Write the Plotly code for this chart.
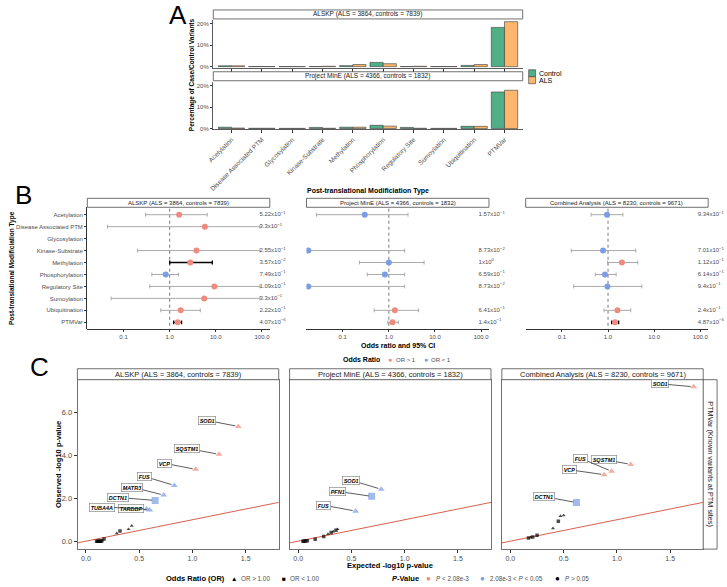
import math
import plotly.graph_objects as go

# ---------------- DATA ----------------
ptm_types = ["Acetylation", "Disease Associated PTM", "Glycosylation", "Kinase-Substrate",
             "Methylation", "Phosphorylation", "Regulatory Site", "Sumoylation",
             "Ubiquitination", "PTMVar"]

# Panel A: percentage of case / control variants
alskp_control_pct = [0.4, 0.1, 0.05, 0.1, 0.5, 2.0, 0.1, 0.1, 0.6, 18.4]
alskp_als_pct     = [0.4, 0.1, 0.05, 0.2, 1.0, 1.4, 0.2, 0.1, 1.0, 21.1]
mine_control_pct  = [0.6, 0.1, 0.05, 0.5, 0.6, 1.5, 0.5, 0.05, 1.0, 17.1]
mine_als_pct      = [0.2, 0.1, 0.05, 0.1, 0.6, 1.1, 0.1, 0.05, 1.0, 17.9]
a_y_ticks = [0, 10, 20]
a_y_ticklabels = ["0%", "10%", "20%"]
a_cohorts = ["ALSKP (ALS = 3864, controls = 7839)", "Project MinE (ALS = 4366, controls = 1832)"]

# Panel B: odds ratio, 95% CI, p-value per PTM type
b_cohorts = ["ALSKP (ALS = 3864, controls = 7839)",
             "Project MinE (ALS = 4366, controls = 1832)",
             "Combined Analysis (ALS = 8230, controls = 9671)"]
alskp_or = [1.6, 5.8, None, 3.8, 2.8, 0.82, 9.3, 5.6, 1.73, 1.49]
alskp_lo = [0.30, 0.045, None, 0.20, 1.0, 0.41, 0.37, 0.054, 0.64, 1.22]
alskp_hi = [6.5, 90, None, 90, 8.4, 1.56, 90, 90, 4.6, 1.81]
alskp_p  = [5.22e-1, 3.3e-1, None, 2.55e-1, 3.57e-2, 7.49e-1, 1.09e-1, 3.3e-1, 2.22e-1, 4.07e-6]

mine_or = [0.30, None, None, 0.018, 1.0, 0.82, 0.018, None, 1.35, 1.2]
mine_lo = [0.027, None, None, 0.01, 0.23, 0.34, 0.01, None, 0.48, 0.95]
mine_hi = [2.6, None, None, 2.2, 5.8, 2.2, 2.2, None, 4.4, 1.6]
mine_p  = [1.57e-1, None, None, 8.73e-2, 1.0, 6.59e-1, 8.73e-2, None, 6.41e-1, 1.4e-1]

comb_or = [0.95, None, None, 0.78, 2.0, 0.86, 0.97, None, 1.6, 1.42]
comb_lo = [0.43, None, None, 0.16, 0.98, 0.53, 0.18, None, 0.82, 1.2]
comb_hi = [2.1, None, None, 4.0, 4.4, 1.5, 5.4, None, 3.1, 1.7]
comb_p  = [9.34e-1, None, None, 7.01e-1, 1.12e-1, 6.14e-1, 9.4e-1, None, 2.4e-1, 4.87e-6]

b_x_ticks = [0.1, 1, 10, 100]
b_x_ticklabels = ["0.1", "1.0", "10.0", "100.0"]

# Panel C: QQ plots (expected vs observed -log10 p), OR direction, p class
alskp_gene = ["SOD1", "SQSTM1", "VCP", "FUS", "MATR3", "DCTN1", "TARDBP", "TUBA4A",
              "", "", "", "", "", "", "", "", "", "", ""]
alskp_exp = [1.43, 1.25, 1.03, 0.83, 0.73, 0.65, 0.60, 0.57,
             0.43, 0.40, 0.32, 0.29, 0.17, 0.15, 0.14, 0.13, 0.12, 0.11, 0.10]
alskp_obs = [5.35, 4.05, 3.35, 2.60, 2.15, 1.90, 1.45, 1.50,
             0.72, 0.56, 0.47, 0.37, 0.10, 0.02, 0.0, 0.0, 0.0, 0.0, 0.0]
alskp_dir = [">", ">", ">", ">", ">", "<", ">", ">",
             ">", ">", "<", ">", "<", "<", "<", "<", "<", "<", "<"]
alskp_cls = ["r", "r", "r", "b", "b", "b", "b", "b",
             "k", "k", "k", "k", "k", "k", "k", "k", "k", "k", "k"]

mine_gene = ["SOD1", "PFN1", "FUS", "", "", "", "", "", "", "", "", "", "", ""]
mine_exp = [0.78, 0.69, 0.54, 0.37, 0.355, 0.33, 0.31, 0.28, 0.24, 0.16, 0.086, 0.07, 0.056, 0.045]
mine_obs = [2.42, 2.09, 1.40, 0.56, 0.51, 0.45, 0.40, 0.33, 0.22, 0.09, 0.02, 0.01, 0.0, 0.0]
mine_dir = [">", "<", ">", ">", "<", ">", "<", ">", "<", "<", "<", "<", "<", "<"]
mine_cls = ["b", "b", "b", "k", "k", "k", "k", "k", "k", "k", "k", "k", "k", "k"]

comb_gene = ["SOD1", "SQSTM1", "FUS", "VCP", "DCTN1", "", "", "", "", "", "", "", ""]
comb_exp = [1.72, 1.13, 0.95, 0.88, 0.62, 0.50, 0.47, 0.45, 0.40, 0.25, 0.21, 0.19, 0.17]
comb_obs = [7.20, 3.58, 3.26, 3.10, 1.80, 1.20, 1.17, 0.93, 0.60, 0.28, 0.20, 0.18, 0.15]
comb_dir = [">", ">", ">", ">", "<", ">", ">", "<", ">", "<", "<", ">", "<"]
comb_cls = ["r", "r", "r", "r", "b", "k", "k", "k", "k", "k", "k", "k", "k"]

c_x_ticks = [0.0, 0.5, 1.0, 1.5]
c_y_ticks = [0.0, 2.0, 4.0, 6.0]

# ---------------- STYLE / LAYOUT ----------------
W, H = 727, 587
FONT = "Liberation Sans, Arial, Helvetica, sans-serif"
GREEN = "#4FAF86"
ORANGE = "#FCB66D"
RED = "#EE8B7E"
BLUE = "#7C9DE6"
TXT = "#4D4D4D"
FRAME = "#4D4D4D"

A_X = (209, 521)
A_ROWS = [(20, 68), (82, 130)]
A_STRIPS = [(10, 19), (72, 81)]
B_COLS = [(82, 266), (303, 487), (524, 708)]
B_Y = (208, 330)
B_STRIP = (199, 208)
C_COLS = [(72, 275), (286, 489), (500, 703)]
C_Y = (381, 551)
C_STRIP = (370, 381)
C_SIDE = (703, 717)

# label offsets (pixels) for the QQ gene labels
LABEL_OFFSETS = {
    (0, "SOD1"): (-31, -6), (0, "SQSTM1"): (-32, -6), (0, "VCP"): (-31, -6),
    (0, "FUS"): (-30, -9), (0, "MATR3"): (-32, -8), (0, "DCTN1"): (-37, -3),
    (0, "TARDBP"): (-19, -2), (0, "TUBA4A"): (-45, -2),
    (1, "SOD1"): (-30, -9), (1, "PFN1"): (-34, -5), (1, "FUS"): (-32, -6),
    (2, "SOD1"): (-34, -3), (2, "SQSTM1"): (-27, -5), (2, "FUS"): (-31, -13),
    (2, "VCP"): (-35, -5), (2, "DCTN1"): (-32, -6),
}


def xd(a, b):
    return [a / W, b / W]


def yd(t, b):
    return [1 - b / H, 1 - t / H]


def px(x):
    return x / W


def py(y):
    return 1 - y / H


fig = go.Figure()
annotations = []
shapes = []


def add_text(x, y, text, size=7, color="black", xanchor="center", yanchor="middle", angle=0):
    annotations.append(dict(x=px(x), y=py(y), xref="paper", yref="paper", text=text,
                            showarrow=False, xanchor=xanchor, yanchor=yanchor,
                            textangle=angle, borderpad=0,
                            font=dict(size=size, color=color, family=FONT)))


def add_strip(x0, x1, y0, y1, text, size, angle=0):
    shapes.append(dict(type="rect", xref="paper", yref="paper", x0=px(x0), x1=px(x1),
                       y0=py(y1), y1=py(y0), fillcolor="white",
                       line=dict(color=FRAME, width=0.8)))
    add_text((x0 + x1) / 2, (y0 + y1) / 2, text, size=size, color="#1A1A1A", angle=angle)


def fmt_p(p):
    e = math.floor(math.log10(p))
    m = p / 10 ** e
    return f"{m:.3g}x10<sup>{str(e).replace('-', '−')}</sup>"


layout_axes = {}

# ---------------- PANEL A ----------------
for i, (ctrl, als) in enumerate([(alskp_control_pct, alskp_als_pct),
                                  (mine_control_pct, mine_als_pct)]):
    sfx = "" if i == 0 else str(i + 1)
    fig.add_bar(x=ptm_types, y=ctrl, name="Control", xaxis="x" + sfx, yaxis="y" + sfx,
                marker=dict(color=GREEN, line=dict(color="#3A3A3A", width=0.6)),
                offsetgroup="ctrl", showlegend=False, hoverinfo="skip")
    fig.add_bar(x=ptm_types, y=als, name="ALS", xaxis="x" + sfx, yaxis="y" + sfx,
                marker=dict(color=ORANGE, line=dict(color="#3A3A3A", width=0.6)),
                offsetgroup="als", showlegend=False, hoverinfo="skip")
    top, bot = A_ROWS[i]
    layout_axes["xaxis" + sfx] = dict(
        domain=xd(*A_X), anchor="y" + sfx, type="category", categoryorder="array",
        categoryarray=ptm_types, range=[-0.6, 9.6], showline=True, linecolor="#333333",
        linewidth=0.8, ticks="outside", ticklen=3, tickcolor="#333333",
        showticklabels=(i == 1), tickangle=-45,
        tickfont=dict(size=6.5, color=TXT, family=FONT), showgrid=False, zeroline=False)
    layout_axes["yaxis" + sfx] = dict(
        domain=yd(top, bot), anchor="x" + sfx, range=[-0.5, 21.9], tickvals=a_y_ticks,
        ticktext=a_y_ticklabels, showline=True, linecolor="#333333", linewidth=0.8,
        ticks="outside", ticklen=2.5, tickcolor="#333333",
        tickfont=dict(size=6, color=TXT, family=FONT), showgrid=False, zeroline=False)
    add_strip(A_X[0], A_X[1], A_STRIPS[i][0], A_STRIPS[i][1], a_cohorts[i], 6.5)

# A legend (manual)
for j, (lab, col) in enumerate([("Control", GREEN), ("ALS", ORANGE)]):
    y0 = 70 + j * 7
    shapes.append(dict(type="rect", xref="paper", yref="paper", x0=px(527), x1=px(534),
                       y0=py(y0 + 7), y1=py(y0), fillcolor=col,
                       line=dict(color="#3A3A3A", width=0.6)))
    add_text(536, y0 + 3.5, lab, size=7, color="black", xanchor="left")

add_text(187, (A_ROWS[0][0] + A_ROWS[1][1]) / 2, "<b>Percentage of Case/Control Variants</b>",
         size=6.5, angle=-90)
add_text((A_X[0] + A_X[1]) / 2, 192, "<b>Post-translational Modificiation Type</b>", size=7)

# ---------------- PANEL B ----------------
b_sets = [(alskp_or, alskp_lo, alskp_hi, alskp_p),
          (mine_or, mine_lo, mine_hi, mine_p),
          (comb_or, comb_lo, comb_hi, comb_p)]
CAP = 0.16
for k, (orr, lo, hi, pv) in enumerate(b_sets):
    n = k + 3
    xa, ya = f"x{n}", f"y{n}"
    fig.add_scatter(x=[1, 1], y=[-1, 10], mode="lines", xaxis=xa, yaxis=ya,
                    line=dict(color="#555555", width=0.8, dash="dot"),
                    showlegend=False, hoverinfo="skip")
    for sig in (False, True):
        xs, ys = [], []
        for i in range(len(ptm_types)):
            if orr[i] is None or (pv[i] < 0.05) != sig:
                continue
            xs += [lo[i], hi[i], None, lo[i], lo[i], None, hi[i], hi[i], None]
            ys += [i, i, None, i - CAP, i + CAP, None, i - CAP, i + CAP, None]
        if xs:
            fig.add_scatter(x=xs, y=ys, mode="lines", xaxis=xa, yaxis=ya,
                            line=dict(color="black" if sig else "#A9A9A9",
                                      width=1.3 if sig else 1.0),
                            showlegend=False, hoverinfo="skip")
    idx = [i for i in range(len(ptm_types)) if orr[i] is not None]
    fig.add_scatter(x=[orr[i] for i in idx], y=idx, mode="markers", xaxis=xa, yaxis=ya,
                    marker=dict(size=6, color=[RED if orr[i] > 1 else BLUE for i in idx]),
                    showlegend=False, hoverinfo="skip")
    fig.add_scatter(x=[88] * len(idx), y=idx, mode="text", xaxis=xa, yaxis=ya,
                    text=[fmt_p(pv[i]) for i in idx], textposition="middle right",
                    textfont=dict(size=6, color=TXT, family=FONT), cliponaxis=False,
                    showlegend=False, hoverinfo="skip")
    x0, x1 = B_COLS[k]
    layout_axes[f"xaxis{n}"] = dict(
        domain=xd(x0, x1), anchor=ya, type="log", range=[-1.785, 2.17],
        tickvals=b_x_ticks, ticktext=b_x_ticklabels, showline=True, linecolor="black",
        linewidth=0.8, ticks="outside", ticklen=2.5, tickcolor="#333333",
        tickfont=dict(size=6, color=TXT, family=FONT), showgrid=False, zeroline=False)
    layout_axes[f"yaxis{n}"] = dict(
        domain=yd(*B_Y), anchor=xa, range=[9.55, -0.62], tickvals=list(range(10)),
        ticktext=ptm_types, showticklabels=(k == 0), showline=(k == 0), linecolor="black",
        linewidth=0.8, ticks="outside" if k == 0 else "", ticklen=2.5, tickcolor="#333333",
        tickfont=dict(size=6, color=TXT, family=FONT), showgrid=False, zeroline=False)
    add_strip(x0, x1, B_STRIP[0], B_STRIP[1], b_cohorts[k], 6)

add_text(6, (B_Y[0] + B_Y[1]) / 2, "<b>Post-translational Modificiation Type</b>", size=6.5,
         angle=-90)
add_text((B_COLS[1][0] + B_COLS[1][1]) / 2, 346.5, "<b>Odds ratio and 95% CI</b>", size=7)
# B legend
add_text(378, 361, "<b>Odds Ratio</b>", size=7, xanchor="right")
add_text(387, 361, "●", size=7, color=RED)
add_text(392, 361, "OR > 1", size=6, color=TXT, xanchor="left")
add_text(423, 361, "●", size=7, color=BLUE)
add_text(428, 361, "OR < 1", size=6, color=TXT, xanchor="left")

# ---------------- PANEL C ----------------
c_sets = [(alskp_gene, alskp_exp, alskp_obs, alskp_dir, alskp_cls),
          (mine_gene, mine_exp, mine_obs, mine_dir, mine_cls),
          (comb_gene, comb_exp, comb_obs, comb_dir, comb_cls)]
CLS_COLOR = {"r": RED, "b": BLUE, "k": "black"}
ref_line = [-0.5, 2.5]
for k, (genes, ex, ob, dr, cl) in enumerate(c_sets):
    n = k + 6
    xa, ya = f"x{n}", f"y{n}"
    fig.add_scatter(x=ref_line, y=ref_line, mode="lines", xaxis=xa, yaxis=ya,
                    line=dict(color="#D9604B", width=1.0), showlegend=False, hoverinfo="skip")
    order = sorted(range(len(ex)), key=lambda i: 0 if cl[i] == "k" else 1)
    fig.add_scatter(
        x=[ex[i] for i in order], y=[ob[i] for i in order], mode="markers",
        xaxis=xa, yaxis=ya, showlegend=False, hoverinfo="skip",
        marker=dict(
            symbol=["triangle-up" if dr[i] == ">" else "square" for i in order],
            color=[CLS_COLOR[cl[i]] for i in order],
            size=[(3.5 if cl[i] == "k" else (7 if dr[i] == "<" else 6)) for i in order],
            line=dict(width=0)))
    for i, g in enumerate(genes):
        if not g:
            continue
        dx, dy = LABEL_OFFSETS[(k, g)]
        annotations.append(dict(
            x=ex[i], y=ob[i], xref=xa, yref=ya, ax=dx, ay=dy, text=f"<b><i>{g}</i></b>",
            showarrow=True, arrowhead=0, arrowwidth=0.8, arrowcolor="#333333",
            bgcolor="white", bordercolor="#8C8C8C", borderwidth=0.7, borderpad=1,
            standoff=3, font=dict(size=5.5, family=FONT, color="black")))
    x0, x1 = C_COLS[k]
    layout_axes[f"xaxis{n}"] = dict(
        domain=xd(x0, x1), anchor=ya, range=[-0.08, 1.81], tickvals=c_x_ticks,
        tickformat=".1f", showline=True, mirror=True, linecolor=FRAME, linewidth=0.8,
        ticks="outside", ticklen=3, tickcolor="#333333",
        tickfont=dict(size=7, color=TXT, family=FONT), showgrid=False, zeroline=False)
    layout_axes[f"yaxis{n}"] = dict(
        domain=yd(*C_Y), anchor=xa, range=[-0.37, 7.53], tickvals=c_y_ticks,
        tickformat=".1f", showticklabels=(k == 0), showline=True, mirror=True,
        linecolor=FRAME, linewidth=0.8, ticks="outside" if k == 0 else "", ticklen=3,
        tickcolor="#333333", tickfont=dict(size=7.5, color=TXT, family=FONT),
        showgrid=False, zeroline=False)
    add_strip(x0, x1, C_STRIP[0], C_STRIP[1], b_cohorts[k], 7.5)

add_strip(C_SIDE[0], C_SIDE[1], C_Y[0], C_Y[1], "PTMVar (Known variants at PTM sites)", 7.3,
          angle=90)
add_text(53, (C_Y[0] + C_Y[1]) / 2, "<b>Observed -log10 p-value</b>", size=7.5, angle=-90)
add_text((C_COLS[1][0] + C_COLS[1][1]) / 2, 567, "<b>Expected -log10 p-value</b>", size=7.5)

# C legend
add_text(222, 580, "<b>Odds Ratio (OR)</b>", size=7.5, xanchor="right")
add_text(230, 580, "▲", size=6.5)
add_text(236, 580, "OR > 1.00", size=6.3, color=TXT, xanchor="left")
add_text(280, 580, "■", size=6.5)
add_text(285, 580, "OR < 1.00", size=6.3, color=TXT, xanchor="left")
add_text(417, 580, "<b><i>P</i>-Value</b>", size=7.5, xanchor="right")
add_text(426, 580, "●", size=8, color=RED)
add_text(433, 580, "<i>P</i> < 2.08e-3", size=6.3, color=TXT, xanchor="left")
add_text(480, 580, "●", size=8, color=BLUE)
add_text(487, 580, "2.08e-3 < <i>P</i> < 0.05", size=6.3, color=TXT, xanchor="left")
add_text(556, 580, "●", size=8, color="black")
add_text(563, 580, "<i>P</i> > 0.05", size=6.3, color=TXT, xanchor="left")

# Panel letters
add_text(173, 15, "A", size=26)
add_text(18, 196, "B", size=26)
add_text(34, 368, "C", size=26)

fig.update_layout(
    width=W, height=H, autosize=False, margin=dict(l=0, r=0, t=0, b=0),
    paper_bgcolor="white", plot_bgcolor="white", barmode="group", bargap=0.13,
    bargroupgap=0, showlegend=False, font=dict(family=FONT),
    annotations=annotations, shapes=shapes, **layout_axes)

fig.write_html("out.html",
               config={"displayModeBar": False, "staticPlot": True},
               post_script="document.body.style.margin='0px';"
                           "document.body.style.overflow='hidden';")
